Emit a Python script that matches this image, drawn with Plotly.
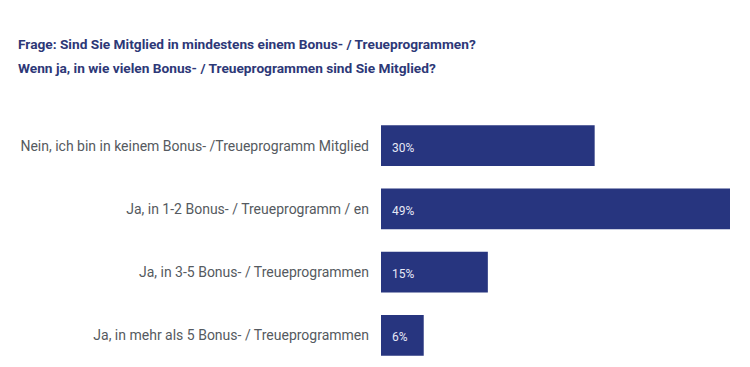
import plotly.graph_objects as go

categories = [
    "Nein, ich bin in keinem Bonus- /Treueprogramm Mitglied",
    "Ja, in 1-2 Bonus- / Treueprogramm / en",
    "Ja, in 3-5 Bonus- / Treueprogrammen",
    "Ja, in mehr als 5 Bonus- / Treueprogrammen",
]
values = [30, 49, 15, 6]
title_lines = [
    "Frage: Sind Sie Mitglied in mindestens einem Bonus- / Treueprogrammen?",
    "Wenn ja, in wie vielen Bonus- / Treueprogrammen sind Sie Mitglied?",
]

W, H = 750, 367
ML, MR, MT, MB = 381, 20, 114, 0
plot_h = H - MT - MB
plot_w = W - ML - MR

bar_color = "#27357f"
title_color = "#2d3877"

fig = go.Figure(go.Bar(
    x=values, y=categories, orientation="h",
    marker=dict(color=bar_color, line=dict(width=0)),
    hoverinfo="skip",
))

annotations = []
for c, v in zip(categories, values):
    annotations.append(dict(
        x=0, y=c, xref="x", yref="y", text=f"{v}%", showarrow=False,
        xanchor="left", yanchor="middle", xshift=9, yshift=-2,
        font=dict(family="Roboto", size=12, color="#e6e8f5"),
    ))

title_px = [44, 68.5]
for line, py in zip(title_lines, title_px):
    annotations.append(dict(
        x=(16 - ML) / plot_w, y=(H - MB - py) / plot_h, xref="paper", yref="paper",
        text=f"<b>{line}</b>", showarrow=False, xanchor="left", yanchor="middle",
        font=dict(family="Roboto", size=13.7, color=title_color),
    ))

fig.update_layout(
    width=W, height=H,
    margin=dict(l=ML, r=MR, t=MT, b=MB, pad=0, autoexpand=False),
    paper_bgcolor="white", plot_bgcolor="white",
    bargap=0.355,
    showlegend=False,
    annotations=annotations,
    xaxis=dict(range=[0, 49], visible=False, fixedrange=True, automargin=False),
    yaxis=dict(
        categoryorder="array", categoryarray=categories,
        range=[3.5, -0.5], showgrid=False, zeroline=False, showline=False,
        ticks="", ticklabelstandoff=11, automargin=False, fixedrange=True,
        tickfont=dict(family="Roboto", size=14, color="#555a60"),
    ),
)

fig.write_html(
    "out.html",
    config={"displayModeBar": False, "staticPlot": True},
    post_script="document.body.style.margin='0';",
)
